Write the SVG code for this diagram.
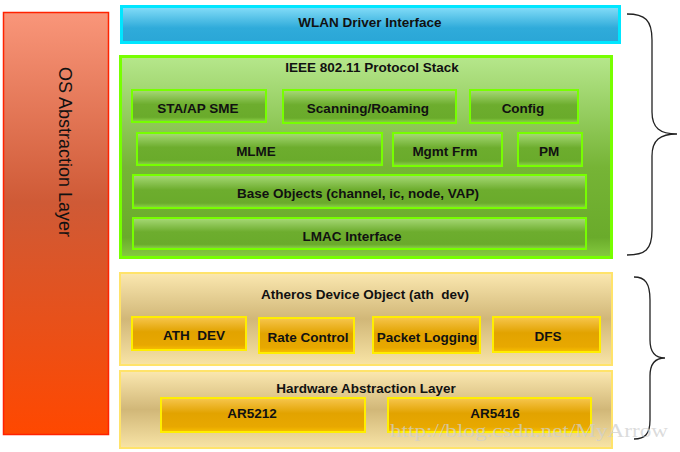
<svg xmlns="http://www.w3.org/2000/svg" width="680" height="452" viewBox="0 0 680 452">
<defs>
<linearGradient id="gOS" x1="0" y1="0" x2="0" y2="1">
<stop offset="0" stop-color="#f9967a"/><stop offset="0.45" stop-color="#cf5a36"/><stop offset="1" stop-color="#ff4800"/>
</linearGradient>
<linearGradient id="gBlue" x1="0" y1="0" x2="0" y2="1">
<stop offset="0" stop-color="#86def9"/><stop offset="0.6" stop-color="#2fabda"/><stop offset="1" stop-color="#2aa6d6"/>
</linearGradient>
<linearGradient id="gGreenGrp" x1="0" y1="0" x2="0" y2="1">
<stop offset="0" stop-color="#b6e78c"/><stop offset="0.55" stop-color="#76b436"/><stop offset="0.9" stop-color="#6aab2b"/><stop offset="1" stop-color="#86cc40"/>
</linearGradient>
<linearGradient id="gGreenBox" x1="0" y1="0" x2="0" y2="1">
<stop offset="0" stop-color="#a8da78"/><stop offset="0.45" stop-color="#6dad2e"/><stop offset="0.85" stop-color="#6aab2b"/><stop offset="1" stop-color="#8fd64a"/>
</linearGradient>
<linearGradient id="gTan" x1="0" y1="0" x2="0" y2="1">
<stop offset="0" stop-color="#fbe8b0"/><stop offset="0.5" stop-color="#d1b778"/><stop offset="1" stop-color="#f8e4a6"/>
</linearGradient>
<linearGradient id="gGold" x1="0" y1="0" x2="0" y2="1">
<stop offset="0" stop-color="#f7c64e"/><stop offset="0.45" stop-color="#e2a300"/><stop offset="0.85" stop-color="#e8a800"/><stop offset="1" stop-color="#f8c000"/>
</linearGradient>
</defs>
<style>
text{font-family:"Liberation Sans",Arial,sans-serif;font-weight:bold;font-size:13.5px;fill:#111;text-anchor:middle;dominant-baseline:central;white-space:pre}
.grp{fill:url(#gGreenGrp);stroke:#77ff00;stroke-width:3}
.gbox{fill:url(#gGreenBox);stroke:#77ff00;stroke-width:2}
.tan{fill:url(#gTan);stroke:#ffe36a;stroke-width:2}
.gold{fill:url(#gGold);stroke:#ffee00;stroke-width:2}
.brace{fill:none;stroke:#222;stroke-width:1.3}
</style>
<rect width="680" height="452" fill="#fff"/>

<g id="os-layer">
<rect x="3.5" y="12.5" width="105" height="422" fill="url(#gOS)" stroke="#ff2200" stroke-width="1.5"/>
<text transform="translate(65,152) rotate(90)" style="font-weight:normal;font-size:18px">OS Abstraction Layer</text>
</g>

<g id="wlan-driver">
<rect x="121.5" y="6.5" width="498" height="36" fill="url(#gBlue)" stroke="#00e6ff" stroke-width="3"/>
<text x="370" y="22">WLAN Driver Interface</text>
</g>

<g id="protocol-stack">
<rect class="grp" x="120.5" y="56.5" width="491" height="201"/>
<text x="372" y="67">IEEE 802.11 Protocol Stack</text>
</g>
<g id="sta-ap-sme"><rect class="gbox" x="132" y="90" width="134" height="32"/><text x="198" y="108">STA/AP SME</text></g>
<g id="scanning"><rect class="gbox" x="283" y="90" width="173" height="33"/><text x="368" y="108">Scanning/Roaming</text></g>
<g id="config"><rect class="gbox" x="470" y="90" width="108" height="33"/><text x="523" y="108">Config</text></g>
<g id="mlme"><rect class="gbox" x="137" y="133" width="245" height="32"/><text x="256" y="151">MLME</text></g>
<g id="mgmt-frm"><rect class="gbox" x="393" y="133" width="109" height="33"/><text x="445" y="151">Mgmt Frm</text></g>
<g id="pm"><rect class="gbox" x="518" y="133" width="64" height="33"/><text x="549" y="151">PM</text></g>
<g id="base-objects"><rect class="gbox" x="133" y="175" width="453" height="33"/><text x="358" y="193">Base Objects (channel, ic, node, VAP)</text></g>
<g id="lmac"><rect class="gbox" x="133" y="218" width="453" height="31"/><text x="352" y="236">LMAC Interface</text></g>

<g id="atheros-device">
<rect class="tan" x="120" y="273" width="492" height="92"/>
<text x="365" y="294">Atheros Device Object (ath  dev)</text>
</g>
<g id="ath-dev"><rect class="gold" x="132" y="317" width="114" height="33"/><text x="194" y="335">ATH  DEV</text></g>
<g id="rate-control"><rect class="gold" x="259" y="318" width="95" height="35"/><text x="308" y="337">Rate Control</text></g>
<g id="packet-logging"><rect class="gold" x="373" y="317" width="107" height="36"/><text x="427" y="337">Packet Logging</text></g>
<g id="dfs"><rect class="gold" x="493" y="317" width="107" height="35"/><text x="548" y="336">DFS</text></g>

<g id="hal">
<rect class="tan" x="120" y="371" width="492" height="77"/>
<text x="366" y="388">Hardware Abstraction Layer</text>
</g>
<g id="ar5212"><rect class="gold" x="161" y="398" width="204" height="34"/><text x="252" y="413">AR5212</text></g>
<g id="ar5416"><rect class="gold" x="388" y="398" width="203" height="34"/><text x="495" y="413">AR5416</text></g>

<g id="connectors">
<path class="brace" d="M627,14 C645,14 652,20 652,40 L652,112 C652,128 660,134 677,134 C660,134 652,140 652,156 L652,230 C652,250 645,255 627,255"/>
<path class="brace" d="M634,277 C645,277 650,283 650,300 L650,340 C650,352 655,358 665,358 C655,358 650,364 650,376 L650,420 C650,434 645,439 634,439"/>
</g>

<text x="390" y="437" textLength="278" lengthAdjust="spacingAndGlyphs" style="font-family:'Liberation Serif','Times New Roman',serif;font-weight:normal;font-size:19px;fill:#cfcfcf;fill-opacity:0.75;text-anchor:start;dominant-baseline:auto">http://blog.csdn.net/MyArrow</text>
</svg>
